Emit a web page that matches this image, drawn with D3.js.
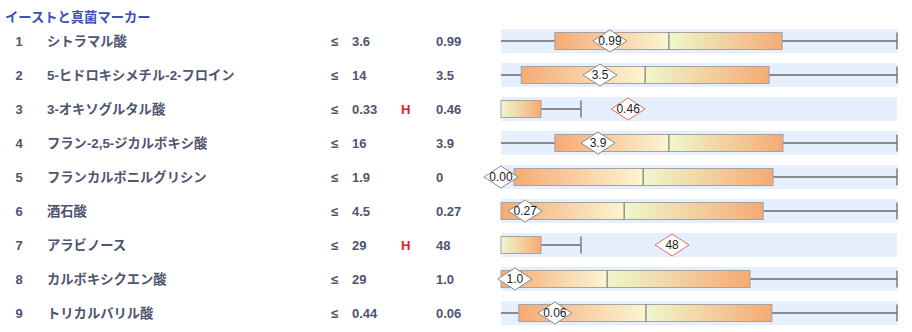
<!DOCTYPE html>
<html>
<head>
<meta charset="utf-8">
<script src="https://cdn.jsdelivr.net/npm/d3@7"></script>
<style>
  html, body { margin: 0; padding: 0; background: #fff; }
  svg { display: block; }
  text { font-family: "Liberation Sans", Arial, "Noto Sans CJK JP", sans-serif; }
</style>
</head>
<body>
<div id="chart"></div>
<script>
const title = "イーストと真菌マーカー";
const rowNumbers = [1, 2, 3, 4, 5, 6, 7, 8, 9];
const names = ["シトラマル酸", "5-ヒドロキシメチル-2-フロイン", "3-オキソグルタル酸", "フラン-2,5-ジカルボキシ酸", "フランカルボニルグリシン", "酒石酸", "アラビノース", "カルボキシクエン酸", "トリカルバリル酸"];
const limits = ["3.6", "14", "0.33", "16", "1.9", "4.5", "29", "29", "0.44"];
const flags = ["", "", "H", "", "", "", "H", "", ""];
const results = ["0.99", "3.5", "0.46", "3.9", "0", "0.27", "48", "1.0", "0.06"];
const markerLabels = ["0.99", "3.5", "0.46", "3.9", "0.00", "0.27", "48", "1.0", "0.06"];
// box statistics on a normalised 0–100 track scale
const whiskerLow = [0, 0, 0, 0, 0, 0, 0, 0, 0];
const q1 = [13.6, 5.1, 0, 13.6, 3.3, 0, 0, 0, 4.5];
const median = [42.4, 36.4, 0, 42.4, 35.9, 31.1, 0, 26.8, 36.6];
const q3 = [71.0, 67.7, 10.1, 71.2, 68.7, 66.2, 10.1, 62.9, 68.4];
const whiskerHigh = [100, 100, 20.2, 100, 100, 100, 20.2, 100, 100];
const markerPos = [27.5, 25.0, 32.1, 24.5, 0, 6.1, 43.2, 3.5, 13.6];

const W = 912, H = 332;
const svg = d3.select("#chart").append("svg").attr("width", W).attr("height", H);

const defs = svg.append("defs");
const gl = defs.append("linearGradient").attr("id", "gLeft");
gl.append("stop").attr("offset", "0%").attr("stop-color", "#f6aa74");
gl.append("stop").attr("offset", "100%").attr("stop-color", "#fbf5d2");
const gr = defs.append("linearGradient").attr("id", "gRight");
gr.append("stop").attr("offset", "0%").attr("stop-color", "#eef7cc");
gr.append("stop").attr("offset", "100%").attr("stop-color", "#f6aa74");

const x = d3.scaleLinear().domain([0, 100]).range([501, 897]);
const y = d3.scaleBand().domain(d3.range(rowNumbers.length)).range([24, 330]);

svg.append("text").attr("x", 5).attr("y", 22).attr("fill", "#3d4fb8")
  .attr("font-size", 13.3).attr("font-weight", "bold").text(title);

const textColor = "#4e5470";
const rows = svg.selectAll("g.row").data(rowNumbers.map((n, i) => i)).join("g")
  .attr("class", "row")
  .attr("transform", i => `translate(0,${y(i) + y.bandwidth() / 2})`);

const label = (sel, xPos, fn, color, anchor, size) => sel.append("text")
  .attr("x", xPos).attr("y", 0).attr("dy", "0.35em")
  .attr("font-size", size || 13).attr("font-weight", "bold")
  .attr("fill", color).attr("text-anchor", anchor || "start").text(fn);

label(rows, 19, i => rowNumbers[i], textColor, "middle");
label(rows, 47, i => names[i], textColor, "start", 13.3);
label(rows, 331, () => "≤", textColor);
label(rows, 352, i => limits[i], textColor);
label(rows, 401, i => flags[i], "#e01b1b");
label(rows, 436, i => results[i], textColor);

// background track
rows.append("rect").attr("x", x(0)).attr("y", -12).attr("width", x(100) - x(0)).attr("height", 24)
  .attr("fill", "#e5effd");

// whiskers
rows.append("line").attr("x1", i => x(whiskerLow[i])).attr("x2", i => x(whiskerHigh[i]))
  .attr("y1", 0).attr("y2", 0).attr("stroke", "#6a6a6a").attr("stroke-width", 1.3);
rows.append("line").attr("x1", i => x(whiskerHigh[i])).attr("x2", i => x(whiskerHigh[i]))
  .attr("y1", -8.5).attr("y2", 8.5).attr("stroke", "#6a6a6a").attr("stroke-width", 1.3);

// box halves
rows.filter(i => median[i] > q1[i]).append("rect")
  .attr("x", i => x(q1[i])).attr("y", -8.5).attr("width", i => x(median[i]) - x(q1[i])).attr("height", 17)
  .attr("fill", "url(#gLeft)");
rows.filter(i => q3[i] > median[i]).append("rect")
  .attr("x", i => x(median[i])).attr("y", -8.5).attr("width", i => x(q3[i]) - x(median[i])).attr("height", 17)
  .attr("fill", "url(#gRight)");
// box outline
rows.append("rect").attr("x", i => x(q1[i])).attr("y", -8.5).attr("width", i => x(q3[i]) - x(q1[i])).attr("height", 17)
  .attr("fill", "none").attr("stroke", "#a3a3a3").attr("stroke-width", 1);
// median line
rows.filter(i => median[i] > q1[i]).append("line")
  .attr("x1", i => x(median[i])).attr("x2", i => x(median[i]))
  .attr("y1", -8.5).attr("y2", 8.5).attr("stroke", "#7a7a7a").attr("stroke-width", 1.2);

// marker diamonds
const mk = rows.append("g").attr("transform", i => `translate(${x(markerPos[i])},0)`);
mk.append("path").attr("d", "M-17,0L0,-11L17,0L0,11Z")
  .attr("fill", "#fff")
  .attr("stroke", i => flags[i] ? "#e26a6a" : "#8a8a8a").attr("stroke-width", 1);
mk.append("text").attr("text-anchor", "middle").attr("dy", "0.36em")
  .attr("font-size", 12).attr("fill", "#222").text(i => markerLabels[i]);
</script>
</body>
</html>
